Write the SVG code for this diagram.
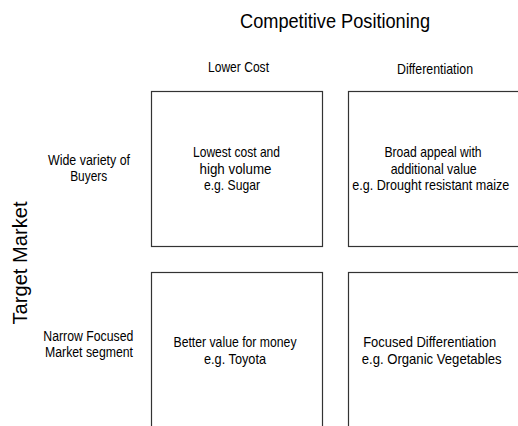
<svg xmlns="http://www.w3.org/2000/svg" width="518" height="426" viewBox="0 0 518 426">
  <style>
    text { font-family: "Liberation Sans", Arial, sans-serif; fill: #000; text-anchor: middle; }
    .title { font-size: 21px; }
    .head { font-size: 15px; }
    .cell { font-size: 14.5px; }
    .row { font-size: 14px; }
    .box { fill: #fff; stroke: #333; stroke-width: 1.2; }
  </style>
  <rect width="518" height="426" fill="#fff"/>

  <!-- headings -->
  <g id="title">
    <text class="title" x="335" y="28" textLength="190" lengthAdjust="spacingAndGlyphs">Competitive Positioning</text>
  </g>
  <g id="col-lower-cost">
    <text class="head" x="238.5" y="72" textLength="61" lengthAdjust="spacingAndGlyphs">Lower Cost</text>
  </g>
  <g id="col-differentiation">
    <text class="head" x="435" y="74" textLength="76" lengthAdjust="spacingAndGlyphs">Differentiation</text>
  </g>
  <g id="axis-target-market">
    <text class="title" transform="translate(27 263) rotate(-90)" x="0" y="0" textLength="123" lengthAdjust="spacingAndGlyphs">Target Market</text>
  </g>
  <g id="row-wide">
    <text class="row" x="89" y="165" textLength="82" lengthAdjust="spacingAndGlyphs">Wide variety of</text>
    <text class="row" x="88.7" y="181" textLength="37" lengthAdjust="spacingAndGlyphs">Buyers</text>
  </g>
  <g id="row-narrow">
    <text class="row" x="88.3" y="341" textLength="90" lengthAdjust="spacingAndGlyphs">Narrow Focused</text>
    <text class="row" x="89" y="357" textLength="88" lengthAdjust="spacingAndGlyphs">Market segment</text>
  </g>

  <!-- quadrant cells -->
  <g id="cell-cost-wide">
    <rect class="box" x="151.5" y="91.5" width="171" height="155"/>
    <text class="cell" x="236.5" y="157" textLength="87" lengthAdjust="spacingAndGlyphs">Lowest cost and</text>
    <text class="cell" x="235.5" y="173.5" textLength="72" lengthAdjust="spacingAndGlyphs">high volume</text>
    <text class="cell" x="232" y="190" textLength="56" lengthAdjust="spacingAndGlyphs">e.g. Sugar</text>
  </g>
  <g id="cell-diff-wide">
    <rect class="box" x="348.5" y="91.5" width="180" height="155"/>
    <text class="cell" x="433" y="157" textLength="97" lengthAdjust="spacingAndGlyphs">Broad appeal with</text>
    <text class="cell" x="433.7" y="173.5" textLength="86" lengthAdjust="spacingAndGlyphs">additional value</text>
    <text class="cell" x="430.8" y="190" textLength="157" lengthAdjust="spacingAndGlyphs">e.g. Drought resistant maize</text>
  </g>
  <g id="cell-cost-narrow">
    <rect class="box" x="151.5" y="272.5" width="171" height="170"/>
    <text class="cell" x="235" y="347" textLength="123" lengthAdjust="spacingAndGlyphs">Better value for money</text>
    <text class="cell" x="235" y="364" textLength="62" lengthAdjust="spacingAndGlyphs">e.g. Toyota</text>
  </g>
  <g id="cell-diff-narrow">
    <rect class="box" x="348.5" y="272.5" width="180" height="170"/>
    <text class="cell" x="429.7" y="347" textLength="133" lengthAdjust="spacingAndGlyphs">Focused Differentiation</text>
    <text class="cell" x="431.7" y="364" textLength="140" lengthAdjust="spacingAndGlyphs">e.g. Organic Vegetables</text>
  </g>

  <g id="connectors"></g>
</svg>
